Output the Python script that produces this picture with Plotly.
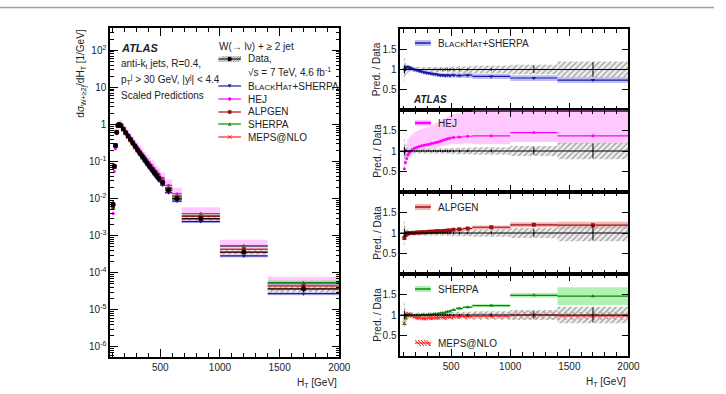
import plotly.graph_objects as go

W, H = 726, 394

# ---------------- data ----------------
edges = [100, 110, 120, 130, 140, 150, 160, 180, 200, 220, 240, 260, 280, 300, 320, 340,
         360, 380, 400, 420, 440, 460, 480, 500, 540, 600, 680, 1000, 1400, 2000]
data_val = [0.007, 0.075, 0.27, 0.62, 0.93, 1.0, 0.93, 0.75, 0.60, 0.485, 0.39, 0.315,
            0.255, 0.206, 0.167, 0.136, 0.111, 0.091, 0.075, 0.062, 0.051, 0.042, 0.035,
            0.027, 0.017, 0.010, 0.0029, 0.00036, 0.000037]
data_err = [0.28, 0.15, 0.10, 0.08, 0.07, 0.06, 0.06, 0.06, 0.06, 0.06, 0.06, 0.06, 0.06,
            0.06, 0.06, 0.065, 0.065, 0.07, 0.07, 0.07, 0.07, 0.07, 0.075, 0.075, 0.08,
            0.08, 0.09, 0.12, 0.20]
data_stat = [0.10, 0.04, 0.02, 0.015, 0.012, 0.01, 0.01, 0.01, 0.01, 0.01, 0.01, 0.012,
             0.012, 0.014, 0.015, 0.016, 0.018, 0.02, 0.022, 0.024, 0.026, 0.028, 0.03,
             0.025, 0.03, 0.03, 0.035, 0.09, 0.18]

bh_ratio = [1.00, 1.05, 1.07, 1.06, 1.05, 1.04, 1.02, 1.00, 0.98, 0.96, 0.95, 0.93, 0.92,
            0.91, 0.90, 0.89, 0.88, 0.87, 0.86, 0.86, 0.85, 0.86, 0.85, 0.86, 0.85, 0.86,
            0.83, 0.79, 0.74]
bh_err = [0.08, 0.06, 0.05, 0.05, 0.05, 0.05, 0.05, 0.05, 0.05, 0.05, 0.05, 0.05, 0.05,
          0.05, 0.06, 0.06, 0.06, 0.06, 0.06, 0.06, 0.07, 0.07, 0.07, 0.07, 0.07, 0.08,
          0.08, 0.09, 0.10]

hej_ratio = [0.57, 0.72, 0.82, 0.90, 0.95, 0.99, 1.03, 1.07, 1.09, 1.11, 1.13, 1.14, 1.15,
             1.16, 1.18, 1.19, 1.21, 1.22, 1.24, 1.26, 1.28, 1.30, 1.31, 1.33, 1.34, 1.36,
             1.37, 1.45, 1.37]
hej_dn = [0.10, 0.10, 0.10, 0.10, 0.10, 0.10, 0.10, 0.10, 0.10, 0.10, 0.10, 0.10, 0.10,
          0.10, 0.10, 0.10, 0.11, 0.11, 0.11, 0.11, 0.12, 0.12, 0.12, 0.12, 0.13, 0.13,
          0.15, 0.16, 0.15]
hej_up = [0.60, 0.50, 0.45, 0.42, 0.40, 0.38, 0.36, 0.36, 0.36, 0.36, 0.36, 0.36, 0.37,
          0.37, 0.38, 0.38, 0.39, 0.39, 0.40, 0.40, 0.41, 0.41, 0.42, 0.42, 0.43, 0.44,
          0.48, 0.50, 0.55]

alp_ratio = [0.88, 0.95, 0.98, 0.99, 1.00, 1.00, 1.00, 1.00, 1.01, 1.01, 1.02, 1.02, 1.02,
             1.03, 1.03, 1.03, 1.04, 1.04, 1.04, 1.05, 1.05, 1.06, 1.06, 1.08, 1.09, 1.11,
             1.14, 1.20, 1.19]
alp_err = [0.04, 0.03, 0.02, 0.02, 0.02, 0.02, 0.02, 0.02, 0.02, 0.02, 0.02, 0.02, 0.02,
           0.02, 0.02, 0.02, 0.02, 0.02, 0.02, 0.02, 0.02, 0.02, 0.02, 0.03, 0.03, 0.03,
           0.04, 0.05, 0.07]

sh_ratio = [0.78, 0.92, 0.98, 1.00, 1.00, 0.99, 0.99, 0.99, 0.99, 0.99, 1.00, 1.00, 1.00,
            1.01, 1.01, 1.02, 1.02, 1.03, 1.04, 1.05, 1.06, 1.08, 1.09, 1.12, 1.16, 1.19,
            1.23, 1.48, 1.46]
sh_err = [0.05, 0.03, 0.02, 0.02, 0.02, 0.02, 0.02, 0.02, 0.02, 0.02, 0.02, 0.02, 0.02,
          0.02, 0.02, 0.02, 0.02, 0.02, 0.02, 0.02, 0.02, 0.02, 0.02, 0.02, 0.02, 0.02,
          0.03, 0.04, 0.15]

meps_ratio = [0.80, 0.92, 0.99, 1.02, 1.02, 1.00, 0.97, 0.95, 0.94, 0.93, 0.92, 0.92, 0.92,
              0.93, 0.93, 0.93, 0.93, 0.94, 0.94, 0.94, 0.94, 0.95, 0.95, 0.95, 0.96, 0.96,
              0.97, 1.00, 0.98]
meps_err = [0.10, 0.06, 0.05, 0.05, 0.05, 0.05, 0.05, 0.05, 0.05, 0.05, 0.05, 0.05, 0.05,
            0.05, 0.05, 0.05, 0.05, 0.05, 0.05, 0.05, 0.06, 0.06, 0.06, 0.06, 0.06, 0.07,
            0.08, 0.09, 0.10]

log_ticks = [1e-6, 1e-5, 1e-4, 1e-3, 1e-2, 1e-1, 1, 10, 100]
log_labels = ["10<sup>-6</sup>", "10<sup>-5</sup>", "10<sup>-4</sup>", "10<sup>-3</sup>",
              "10<sup>-2</sup>", "10<sup>-1</sup>", "1", "10", "10<sup>2</sup>"]

# ---------------- colours ----------------
C_BH, F_BH = "#1a1aa0", "rgba(110,110,235,0.45)"
C_HEJ, F_HEJ = "#ff00ff", "rgba(255,120,255,0.40)"
C_ALP, F_ALP = "#a01010", "rgba(225,90,90,0.45)"
C_SH, F_SH = "#0a8a0a", "rgba(60,220,60,0.40)"
C_ME = "#ff2020"

FONT = "Liberation Sans, Arial, sans-serif"

centers = [(a + b) / 2 for a, b in zip(edges[:-1], edges[1:])]
widths = [b - a for a, b in zip(edges[:-1], edges[1:])]


def px(x):
    return x / W


def py(y):
    return 1 - y / H


fig = go.Figure()


def steps(vals):
    xs, ys = [], []
    for a, b, v in zip(edges[:-1], edges[1:], vals):
        xs += [a, b, None]
        ys += [v, v, None]
    return xs, ys


def band(lo, hi, xa, ya, color=None, pattern=None):
    marker = dict(color=color if color else "rgba(0,0,0,0)", line=dict(width=0))
    if pattern:
        marker["pattern"] = pattern
    fig.add_trace(go.Bar(x=centers, y=[h - l for l, h in zip(lo, hi)], base=lo,
                         width=widths, marker=marker, xaxis=xa, yaxis=ya,
                         showlegend=False, hoverinfo="skip"))


def stepline(vals, color, xa, ya, width=1.2):
    xs, ys = steps(vals)
    fig.add_trace(go.Scatter(x=xs, y=ys, mode="lines", line=dict(color=color, width=width),
                             xaxis=xa, yaxis=ya, showlegend=False, hoverinfo="skip"))


def marks(vals, color, symbol, size, xa, ya):
    fig.add_trace(go.Scatter(x=centers, y=vals, mode="markers",
                             marker=dict(color=color, symbol=symbol, size=size,
                                         line=dict(width=0.8 if "x" in symbol else 0, color=color)),
                             xaxis=xa, yaxis=ya, showlegend=False, hoverinfo="skip"))


DATA_HATCH = dict(shape="/", fgcolor="#9a9a9a", bgcolor="rgba(225,225,225,0.5)",
                  size=4, solidity=0.3, fillmode="replace")
MEPS_HATCH = dict(shape="\\", fgcolor=C_ME, bgcolor="rgba(0,0,0,0)", size=5,
                  solidity=0.25, fillmode="replace")

# ---------------- main panel ----------------
preds = {
    "bh": [d * r for d, r in zip(data_val, bh_ratio)],
    "hej": [d * r for d, r in zip(data_val, hej_ratio)],
    "alp": [d * r for d, r in zip(data_val, alp_ratio)],
    "sh": [d * r for d, r in zip(data_val, sh_ratio)],
    "me": [d * r for d, r in zip(data_val, meps_ratio)],
}

band([p * (1 - e) for p, e in zip(preds["hej"], hej_dn)],
     [p * (1 + e) for p, e in zip(preds["hej"], hej_up)], "x", "y", F_HEJ)
band([p * (1 - e) for p, e in zip(preds["bh"], bh_err)],
     [p * (1 + e) for p, e in zip(preds["bh"], bh_err)], "x", "y", F_BH)
band([p * (1 - e) for p, e in zip(preds["alp"], alp_err)],
     [p * (1 + e) for p, e in zip(preds["alp"], alp_err)], "x", "y", F_ALP)
band([p * (1 - e) for p, e in zip(preds["sh"], sh_err)],
     [p * (1 + e) for p, e in zip(preds["sh"], sh_err)], "x", "y", F_SH)
band([p * (1 - e) for p, e in zip(preds["me"], meps_err)],
     [p * (1 + e) for p, e in zip(preds["me"], meps_err)], "x", "y", None, MEPS_HATCH)
band([d * (1 - e) for d, e in zip(data_val, data_err)],
     [d * (1 + e) for d, e in zip(data_val, data_err)], "x", "y", None, DATA_HATCH)

for key, col in [("hej", C_HEJ), ("bh", C_BH), ("alp", C_ALP), ("sh", C_SH), ("me", C_ME)]:
    stepline(preds[key], col, "x", "y")
stepline(data_val, "black", "x", "y", 1.0)

marks(preds["hej"], C_HEJ, "circle", 3, "x", "y")
marks(preds["bh"], C_BH, "triangle-down", 4, "x", "y")
marks(preds["alp"], C_ALP, "square", 4, "x", "y")
marks(preds["sh"], C_SH, "triangle-up", 4, "x", "y")
marks(preds["me"], C_ME, "x-thin", 4, "x", "y")
fig.add_trace(go.Scatter(x=centers, y=data_val, mode="markers",
                         marker=dict(color="black", size=5),
                         error_y=dict(type="data", array=[d * e for d, e in zip(data_val, data_err)],
                                      color="black", thickness=1, width=0),
                         xaxis="x", yaxis="y", showlegend=False, hoverinfo="skip"))

# ---------------- ratio panels ----------------
ones = [1.0] * len(centers)
panels = [
    ("x2", "y2", [("bh", bh_ratio, bh_err, bh_err, C_BH, F_BH, None, "triangle-down", 4)]),
    ("x3", "y3", [("hej", hej_ratio, hej_dn, hej_up, C_HEJ, F_HEJ, None, "circle", 3)]),
    ("x4", "y4", [("alp", alp_ratio, alp_err, alp_err, C_ALP, F_ALP, None, "square", 4)]),
    ("x5", "y5", [("sh", sh_ratio, sh_err, sh_err, C_SH, F_SH, None, "triangle-up", 4),
                  ("me", meps_ratio, meps_err, meps_err, C_ME, None, MEPS_HATCH, "x-thin", 4)]),
]
for xa, ya, items in panels:
    for _, r, dn, up, col, fill, pat, sym, sz in items:
        band([v * (1 - e) for v, e in zip(r, dn)], [v * (1 + e) for v, e in zip(r, up)],
             xa, ya, fill, pat)
    band([1 - e for e in data_err], [1 + e for e in data_err], xa, ya, None, DATA_HATCH)
    for _, r, dn, up, col, fill, pat, sym, sz in items:
        stepline(r, col, xa, ya)
        marks(r, col, sym, sz, xa, ya)
    fig.add_trace(go.Scatter(x=centers, y=ones, mode="markers",
                             marker=dict(color="black", size=1),
                             error_y=dict(type="data", array=data_stat, color="black",
                                          thickness=1, width=0),
                             xaxis=xa, yaxis=ya, showlegend=False, hoverinfo="skip"))

# ---------------- axes ----------------
axis_common = dict(showline=True, linewidth=1.5, linecolor="black", mirror="allticks",
                   ticks="inside", tickcolor="black", tickwidth=1, showgrid=False,
                   zeroline=False, tickfont=dict(family=FONT, size=10, color="#222"))

L_X0, L_X1, TOP, BOT = 112, 345, 28, 357
R_X0, R_X1 = 407, 639
P = [29, 110, 192, 274, 356]

layout = dict(
    width=W, height=H, autosize=False,
    margin=dict(l=0, r=0, t=0, b=0),
    paper_bgcolor="white", plot_bgcolor="rgba(0,0,0,0)",
    barmode="overlay", showlegend=False,
    font=dict(family=FONT, size=10, color="#222"),
)
layout["xaxis"] = dict(axis_common, domain=[px(L_X0), px(L_X1)], range=[80, 2000],
                       ticklen=8, anchor="y",
                       tickvals=[500, 1000, 1500, 2000],
                       minor=dict(ticks="inside", ticklen=4, dtick=100, tick0=0,
                                  tickcolor="black", showgrid=False))
minor_log = [k * 10 ** e for e in range(-7, 3) for k in range(2, 10)]
layout["yaxis"] = dict(axis_common, type="log", domain=[py(BOT), py(TOP)],
                       range=[-6.27, 2.6], tickvals=log_ticks, ticktext=log_labels,
                       ticklen=8, anchor="x",
                       minor=dict(ticks="inside", ticklen=4, tickvals=minor_log,
                                  tickcolor="black", showgrid=False))
for i in range(4):
    xn = "xaxis%d" % (i + 2)
    yn = "yaxis%d" % (i + 2)
    layout[xn] = dict(axis_common, domain=[px(R_X0), px(R_X1)], range=[70, 2000],
                      tickvals=[500, 1000, 1500, 2000], ticklen=7,
                      showticklabels=(i == 3), anchor="y%d" % (i + 2),
                      minor=dict(ticks="inside", ticklen=4, dtick=100, tick0=0,
                                 tickcolor="black", showgrid=False))
    if i > 0:
        layout[xn]["matches"] = "x2"
    layout[yn] = dict(axis_common, domain=[py(P[i + 1]), py(P[i])], range=[0.0, 2.0],
                      tickvals=[0.5, 1, 1.5], ticktext=["0.5", "1", "1.5"], ticklen=7,
                      anchor="x%d" % (i + 2))
fig.update_layout(**layout)

# ---------------- shapes & annotations ----------------
shapes = []
ann = []


def txt(x, y, text, size=10, xanchor="left", **kw):
    d = dict(xref="paper", yref="paper", x=px(x), y=py(y), text=text, showarrow=False,
             xanchor=xanchor, yanchor="middle", font=dict(family=FONT, size=size, color="#222"))
    d.update(kw)
    ann.append(d)


def sline(x0, y0, x1, y1, color, width=1.2):
    shapes.append(dict(type="line", xref="paper", yref="paper", x0=px(x0), y0=py(y0),
                       x1=px(x1), y1=py(y1), line=dict(color=color, width=width)))


def srect(x0, y0, x1, y1, fill):
    shapes.append(dict(type="rect", xref="paper", yref="paper", x0=px(x0), y0=py(y0),
                       x1=px(x1), y1=py(y1), fillcolor=fill, line=dict(width=0)))


def hatch(x0, x1, yc, h, color, direction=1, step=2.5, width=0.8):
    parts = []
    x = x0
    while x < x1 - 1:
        if direction > 0:
            parts.append("M %f %f L %f %f" % (px(x), py(yc + h), px(min(x + h * 2, x1)), py(yc - h)))
        else:
            parts.append("M %f %f L %f %f" % (px(x), py(yc - h), px(min(x + h * 2, x1)), py(yc + h)))
        x += step
    shapes.append(dict(type="path", xref="paper", yref="paper", path=" ".join(parts),
                       line=dict(color=color, width=width)))


def smark(kind, x, y, color, s=2.0):
    if kind == "square":
        srect(x - s, y - s, x + s, y + s, color)
    elif kind == "circle":
        shapes.append(dict(type="circle", xref="paper", yref="paper", x0=px(x - s), y0=py(y - s),
                           x1=px(x + s), y1=py(y + s), fillcolor=color, line=dict(width=0)))
    elif kind in ("tri-up", "tri-down"):
        sg = 1 if kind == "tri-up" else -1
        path = "M %f %f L %f %f L %f %f Z" % (px(x - s), py(y + sg * s), px(x + s), py(y + sg * s),
                                              px(x), py(y - sg * s))
        shapes.append(dict(type="path", xref="paper", yref="paper", path=path,
                           fillcolor=color, line=dict(width=0)))
    elif kind == "x":
        path = "M %f %f L %f %f M %f %f L %f %f" % (px(x - s), py(y - s), px(x + s), py(y + s),
                                                    px(x - s), py(y + s), px(x + s), py(y - s))
        shapes.append(dict(type="path", xref="paper", yref="paper", path=path,
                           line=dict(color=color, width=1)))


# page header rule
sline(0, 7.5, W, 7.5, "#a0a0a0", 1.5)

# main panel text
txt(121, 48, "<b><i>ATLAS</i></b>", 11)
txt(121, 64, "anti-k<sub>t</sub> jets, R=0.4,")
txt(121, 79, "p<sub>T</sub><sup>j</sup> > 30 GeV, |y<sup>j</sup>| < 4.4")
txt(121, 95, "Scaled Predictions")

# main legend
txt(221, 46, "W(→ lν) + ≥ 2 jet")
LX0, LX1, LT = 222, 245, 250
srect(LX0, 56, LX1, 62, "rgba(215,215,215,0.7)")
hatch(LX0, LX1, 59, 3, "#8a8a8a")
sline(LX0, 59, LX1, 59, "black", 1)
smark("circle", (LX0 + LX1) / 2, 59, "black", 2.2)
txt(LT, 59, "Data,")
txt(LT, 72, "√s = 7 TeV, 4.6 fb<sup>-1</sup>")
BH_TXT = ("B<span style='font-size:8px'>LACK</span>H<span style='font-size:8px'>AT</span>+SHERPA")
leg = [(86, C_BH, "tri-down", BH_TXT), (99, C_HEJ, "circle", "HEJ"),
       (112, C_ALP, "square", "ALPGEN"), (124, C_SH, "tri-up", "SHERPA"),
       (137, C_ME, "x", "MEPS@NLO")]
for y, col, mk, label in leg:
    sline(LX0, y, LX1, y, col, 1.2)
    smark(mk, (LX0 + LX1) / 2, y, col, 1.8)
    txt(LT, y, label)

# axis titles
ann.append(dict(xref="paper", yref="paper", x=px(82), y=py(28), xanchor="center", yanchor="top",
                text="dσ<sub>W+≥2j</sub>/dH<sub>T</sub> [1/GeV]", textangle=-90, showarrow=False,
                font=dict(family=FONT, size=10, color="#222")))
txt(L_X1, 383, "H<sub>T</sub> [GeV]", 10, xanchor="right")
txt(R_X1, 382, "H<sub>T</sub> [GeV]", 10, xanchor="right")
for i in range(4):
    ann.append(dict(xref="paper", yref="paper", x=px(383), y=py((P[i] + P[i + 1]) / 2),
                    xanchor="center", yanchor="middle", text="Pred. / Data", textangle=-90,
                    showarrow=False, font=dict(family=FONT, size=10, color="#222")))

# ratio legends
SX0, SX1, ST = 422, 438, 443
srect(SX0, 40, SX1, 46, F_BH)
sline(SX0, 43, SX1, 43, C_BH, 1.5)
txt(ST, 43, BH_TXT)
txt(418, 99, "<b><i>ATLAS</i></b>", 10)

srect(SX0, 120, SX1, 126, F_HEJ)
sline(SX0, 123, SX1, 123, C_HEJ, 2.5)
txt(ST, 123, "HEJ")

srect(SX0, 204, SX1, 210, F_ALP)
sline(SX0, 207, SX1, 207, C_ALP, 1.5)
txt(ST, 207, "ALPGEN")

srect(SX0, 286, SX1, 292, F_SH)
sline(SX0, 289, SX1, 289, C_SH, 1.5)
txt(ST, 289, "SHERPA")

hatch(SX0, SX1, 343, 3, C_ME, direction=-1, step=3, width=1)
sline(SX0, 343, SX1, 343, C_ME, 1.2)
txt(ST, 343, "MEPS@NLO")

# unity lines
for i in range(4):
    shapes.append(dict(type="line", xref="x%d domain" % (i + 2), yref="y%d" % (i + 2),
                       x0=0, x1=1, y0=1, y1=1, line=dict(color="black", width=1.2),
                       layer="above"))

fig.update_layout(shapes=shapes, annotations=ann)
fig.write_html("out.html")
